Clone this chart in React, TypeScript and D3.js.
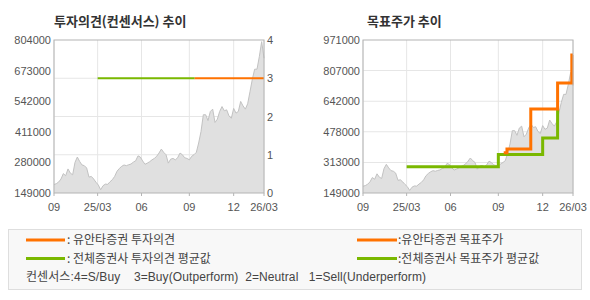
import React from 'react';
import * as d3 from 'd3';

// ---- data ----
const xTickIdx = [0, 18.7, 37.5, 58, 77, 90];
const xTickLabels = ['09', '25/03', '06', '09', '12', '26/03'];

const price = [
  185000, 189000, 196000, 209000, 232000, 223000, 252000, 234000, 227000, 280000,
  303000, 284000, 269000, 266000, 256000, 217000, 220000, 209000, 195000, 183000,
  163000, 180000, 187000, 186000, 197000, 206000, 220000, 242000, 254000, 263000,
  269000, 266000, 270000, 273000, 281000, 287000, 308000, 303000, 286000, 272000,
  277000, 283000, 291000, 297000, 306000, 320000, 337000, 323000, 313000, 277000,
  294000, 297000, 291000, 300000, 320000, 313000, 300000, 297000, 291000, 306000,
  313000, 323000, 363000, 412000, 484000, 484000, 459000, 498000, 508000, 451000,
  465000, 498000, 519000, 501000, 505000, 479000, 469000, 511000, 491000, 498000,
  541000, 522000, 508000, 531000, 583000, 636000, 679000, 679000, 733000, 797000,
  726000,
];

const ratingOwnIdx = [60.3, 90];
const ratingOwnVal = [3, 3];
const ratingAvgIdx = [18.7, 60.3];
const ratingAvgVal = [3, 3];

const targetOwnIdx = [60.3, 61.7, 71.9, 83.4, 89.5, 90];
const targetOwnVal = [365000, 385000, 600000, 740000, 890000, 890000];
const targetAvgIdx = [18.7, 58, 77, 83.4];
const targetAvgVal = [290000, 356000, 444000, 600000];

const leftTicks = [149000, 280000, 411000, 542000, 673000, 804000];
const rightTicksL = [0, 1, 2, 3, 4];
const rightChartTicks = [149000, 313000, 478000, 642000, 807000, 971000];

const ORANGE = '#ff7200';
const GREEN = '#7ab800';
const FONT = '"Liberation Sans", Arial, "Noto Sans CJK KR", sans-serif';
const KFONT = '"Noto Sans CJK KR", sans-serif';

const TOP = 40;
const BOTTOM = 193;

function PriceChart(props: {
  x0: number; x1: number; yMax: number; title: string; titleX: number;
  yTicks: number[]; gridTicks: number[]; gridScale: d3.ScaleLinear<number, number>;
  children?: any; rightAxis?: boolean;
}) {
  const { x0, x1, yMax, title, titleX, yTicks } = props;
  const x = d3.scaleLinear().domain([0, price.length - 1]).range([x0, x1]);
  const y = d3.scaleLinear().domain([149000, yMax]).range([BOTTOM, TOP]);
  const area = d3.area<number>().x((_, i) => x(i)).y0(BOTTOM).y1((d) => y(d));
  const line = d3.line<number>().x((_, i) => x(i)).y((d) => y(d));
  return (
    <g>
      <text x={titleX} y={26} fontFamily={KFONT} fontWeight="bold" fontSize={13} fill="#333">{title}</text>
      {props.gridTicks.map((t, i) => (
        <line key={'gy' + i} x1={x0} x2={x1} y1={props.gridScale(t)} y2={props.gridScale(t)} stroke="#e6e6e6" />
      ))}
      {xTickIdx.map((t, i) => (
        <line key={'gx' + i} x1={x(t)} x2={x(t)} y1={TOP} y2={BOTTOM} stroke="#e6e6e6" />
      ))}
      <path d={area(price) || ''} fill="#e0e0e0" />
      <path d={line(price) || ''} fill="none" stroke="#c2c2c2" strokeWidth={1} />
      {props.children}
      <rect x={x0} y={TOP} width={x1 - x0} height={BOTTOM - TOP} fill="none" stroke="#b4b4b4" />
      {xTickIdx.map((t, i) => (
        <line key={'tx' + i} x1={x(t)} x2={x(t)} y1={BOTTOM} y2={BOTTOM + 3} stroke="#b4b4b4" />
      ))}
      {yTicks.map((t, i) => (
        <text key={'yl' + i} x={x0 - 3} y={y(t) + 4} textAnchor="end" fontFamily={FONT} fontSize={11} fill="#555">{t}</text>
      ))}
      {xTickIdx.map((t, i) => (
        <text key={'xl' + i} x={x(t)} y={211} textAnchor="middle" fontFamily={FONT} fontSize={11} fill="#555">{xTickLabels[i]}</text>
      ))}
    </g>
  );
}

export default function App() {
  // left chart
  const lx0 = 54, lx1 = 264;
  const lx = d3.scaleLinear().domain([0, price.length - 1]).range([lx0, lx1]);
  const rating = d3.scaleLinear().domain([0, 4]).range([BOTTOM, TOP]);
  const rLine = d3.line<number>().curve(d3.curveStepAfter);

  // right chart
  const rx0 = 363, rx1 = 573;
  const rx = d3.scaleLinear().domain([0, price.length - 1]).range([rx0, rx1]);
  const ry = d3.scaleLinear().domain([149000, 971000]).range([BOTTOM, TOP]);

  const ratingOwn = rLine(ratingOwnIdx.map((d, i) => [lx(d), rating(ratingOwnVal[i])] as [number, number])) || '';
  const ratingAvg = rLine(ratingAvgIdx.map((d, i) => [lx(d), rating(ratingAvgVal[i])] as [number, number])) || '';
  const targetOwn = rLine(targetOwnIdx.map((d, i) => [rx(d), ry(targetOwnVal[i])] as [number, number])) || '';
  const targetAvg = rLine(targetAvgIdx.map((d, i) => [rx(d), ry(targetAvgVal[i])] as [number, number])) || '';

  return (
    <svg width={590} height={300} style={{ position: 'absolute', left: 0, top: 0 }}>
      <rect x={0} y={0} width={590} height={300} fill="#fff" />
      <PriceChart x0={lx0} x1={lx1} yMax={804000} title="투자의견(컨센서스) 추이" titleX={54}
        yTicks={leftTicks} gridTicks={[1, 2, 3]} gridScale={rating}>
        <path d={ratingAvg} fill="none" stroke={GREEN} strokeWidth={2} />
        <path d={ratingOwn} fill="none" stroke={ORANGE} strokeWidth={2} />
      </PriceChart>
      {rightTicksL.map((t, i) => (
        <text key={'r' + i} x={267} y={rating(t) + 4} fontFamily={FONT} fontSize={11} fill="#555">{t}</text>
      ))}
      <PriceChart x0={rx0} x1={rx1} yMax={971000} title="목표주가 추이" titleX={367}
        yTicks={rightChartTicks} gridTicks={rightChartTicks.slice(1, 5)} gridScale={ry}>
        <path d={targetAvg} fill="none" stroke={GREEN} strokeWidth={3} />
        <path d={targetOwn} fill="none" stroke={ORANGE} strokeWidth={3} />
      </PriceChart>

      {/* legend */}
      <rect x={8.5} y={229.5} width={573} height={60} fill="#f8f8f8" stroke="#dedede" />
      <line x1={26} x2={65} y1={240} y2={240} stroke={ORANGE} strokeWidth={3} />
      <text x={67} y={244} fontFamily={KFONT} fontSize={12} fill="#444" xmlSpace="preserve">: 유안타증권 투자의견</text>
      <line x1={26} x2={65} y1={258.5} y2={258.5} stroke={GREEN} strokeWidth={3} />
      <text x={67} y={262.5} fontFamily={KFONT} fontSize={12} fill="#444" xmlSpace="preserve">: 전체증권사 투자의견 평균값</text>
      <line x1={357} x2={397} y1={240} y2={240} stroke={ORANGE} strokeWidth={3} />
      <text x={398} y={244} fontFamily={KFONT} fontSize={12} fill="#444">:유안타증권 목표주가</text>
      <line x1={357} x2={397} y1={258.5} y2={258.5} stroke={GREEN} strokeWidth={3} />
      <text x={398} y={262.5} fontFamily={KFONT} fontSize={12} fill="#444">:전체증권사 목표주가 평균값</text>
      <text x={26} y={281} fontFamily={FONT} fontSize={12} fill="#444" textLength={400} lengthAdjust="spacing"
        style={{ whiteSpace: 'pre' }}>{'컨센서스:4=S/Buy    3=Buy(Outperform)  2=Neutral   1=Sell(Underperform)'}</text>
    </svg>
  );
}
